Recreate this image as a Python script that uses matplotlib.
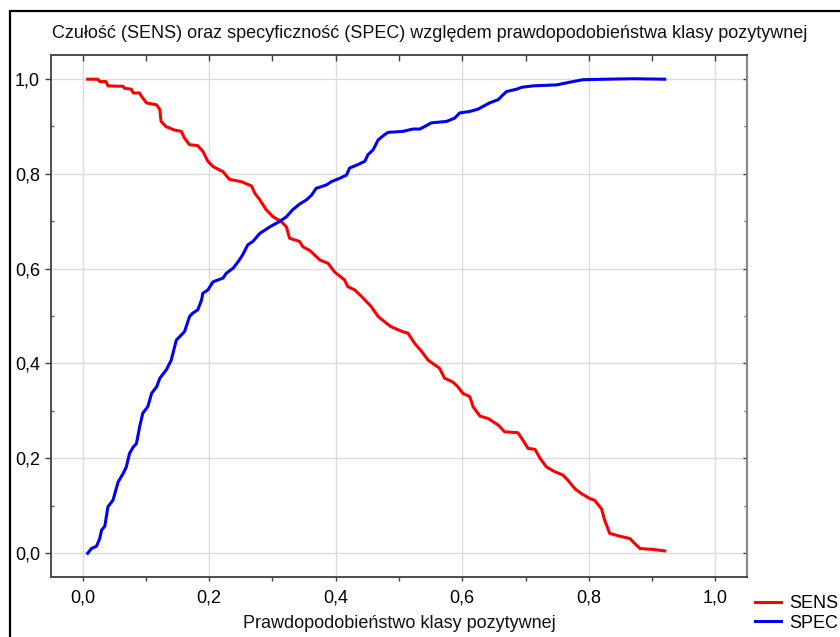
import numpy as np
import matplotlib
matplotlib.use("Agg")
import matplotlib.pyplot as plt
from matplotlib.patches import Rectangle
from matplotlib.ticker import FixedLocator, FuncFormatter

plt.rcParams['font.family'] = ['Liberation Sans', 'DejaVu Sans']

# --- data ---
sens_x = [0.008, 0.024, 0.027, 0.037, 0.040, 0.064, 0.066, 0.077, 0.080, 0.090,
          0.093, 0.101, 0.117, 0.122, 0.124, 0.132, 0.145, 0.156, 0.161, 0.169,
          0.182, 0.190, 0.198, 0.206, 0.222, 0.232, 0.251, 0.267, 0.272, 0.280,
          0.290, 0.301, 0.314, 0.322, 0.327, 0.343, 0.348, 0.359, 0.364, 0.375,
          0.388, 0.398, 0.414, 0.419, 0.430, 0.441, 0.446, 0.456, 0.467, 0.480,
          0.488, 0.506, 0.514, 0.525, 0.536, 0.546, 0.564, 0.572, 0.585, 0.593,
          0.601, 0.612, 0.617, 0.628, 0.641, 0.657, 0.667, 0.688, 0.696, 0.704,
          0.715, 0.723, 0.733, 0.746, 0.759, 0.767, 0.778, 0.788, 0.802, 0.809,
          0.820, 0.825, 0.833, 0.849, 0.865, 0.873, 0.881, 0.902, 0.920]
sens_y = [0.999, 0.999, 0.994, 0.994, 0.985, 0.984, 0.980, 0.978, 0.970, 0.970,
          0.963, 0.949, 0.945, 0.935, 0.910, 0.899, 0.892, 0.889, 0.875, 0.861,
          0.859, 0.847, 0.826, 0.815, 0.804, 0.788, 0.783, 0.774, 0.759, 0.745,
          0.724, 0.709, 0.699, 0.688, 0.664, 0.657, 0.646, 0.638, 0.632, 0.618,
          0.611, 0.593, 0.576, 0.562, 0.555, 0.541, 0.534, 0.520, 0.499, 0.485,
          0.477, 0.467, 0.464, 0.442, 0.425, 0.407, 0.390, 0.369, 0.361, 0.351,
          0.337, 0.330, 0.309, 0.289, 0.284, 0.270, 0.256, 0.254, 0.238, 0.221,
          0.219, 0.200, 0.182, 0.172, 0.165, 0.154, 0.136, 0.126, 0.115, 0.112,
          0.094, 0.070, 0.042, 0.036, 0.031, 0.020, 0.010, 0.008, 0.005]

spec_x = [0.008, 0.014, 0.022, 0.027, 0.030, 0.035, 0.040, 0.048, 0.056, 0.064,
          0.069, 0.074, 0.080, 0.085, 0.090, 0.095, 0.103, 0.109, 0.117, 0.122,
          0.132, 0.140, 0.148, 0.153, 0.161, 0.169, 0.174, 0.182, 0.188, 0.190,
          0.198, 0.206, 0.222, 0.227, 0.238, 0.246, 0.253, 0.261, 0.269, 0.280,
          0.296, 0.311, 0.322, 0.332, 0.343, 0.354, 0.362, 0.369, 0.385, 0.393,
          0.406, 0.417, 0.422, 0.435, 0.446, 0.451, 0.459, 0.467, 0.477, 0.483,
          0.506, 0.522, 0.533, 0.543, 0.551, 0.575, 0.588, 0.596, 0.612, 0.625,
          0.643, 0.657, 0.662, 0.670, 0.686, 0.694, 0.712, 0.749, 0.775, 0.791,
          0.828, 0.870, 0.920]
spec_y = [0.000, 0.010, 0.015, 0.031, 0.049, 0.057, 0.098, 0.112, 0.150, 0.168,
          0.182, 0.210, 0.224, 0.231, 0.266, 0.295, 0.309, 0.337, 0.351, 0.369,
          0.386, 0.407, 0.449, 0.456, 0.467, 0.499, 0.506, 0.513, 0.534, 0.548,
          0.555, 0.572, 0.580, 0.590, 0.601, 0.615, 0.629, 0.650, 0.657, 0.674,
          0.688, 0.699, 0.709, 0.724, 0.736, 0.745, 0.755, 0.769, 0.776, 0.783,
          0.790, 0.797, 0.812, 0.819, 0.826, 0.840, 0.850, 0.871, 0.882, 0.887,
          0.889, 0.894, 0.894, 0.901, 0.907, 0.910, 0.917, 0.928, 0.931, 0.936,
          0.949, 0.956, 0.963, 0.973, 0.978, 0.982, 0.985, 0.987, 0.994, 0.998,
          0.999, 1.000, 0.999]

major_ticks = [0.0, 0.2, 0.4, 0.6, 0.8, 1.0]
minor_ticks = [0.1, 0.3, 0.5, 0.7, 0.9]

title = "Czułość (SENS) oraz specyficzność (SPEC) względem prawdopodobieństwa klasy pozytywnej"
xlabel = "Prawdopodobieństwo klasy pozytywnej"

# --- figure ---
fig = plt.figure(figsize=(8.4, 6.37), dpi=100)
ax = fig.add_axes([51 / 840, 1 - 577 / 637, 696 / 840, 522 / 637])

ax.plot(sens_x, sens_y, color="#ff0000", lw=2.2, label="SENS", zorder=3)
ax.plot(spec_x, spec_y, color="#0000ff", lw=2.2, label="SPEC", zorder=3)

ax.set_xlim(-0.05, 1.05)
ax.set_ylim(-0.05, 1.05)

comma = FuncFormatter(lambda v, p: f"{v:.1f}".replace(".", ","))
for axis in (ax.xaxis, ax.yaxis):
    axis.set_major_locator(FixedLocator(major_ticks))
    axis.set_minor_locator(FixedLocator(minor_ticks))
    axis.set_major_formatter(comma)

ax.grid(True, which="major", color="#dcdcdc", lw=1.0, zorder=0)
ax.set_axisbelow(True)

for side in ["left", "bottom", "top"]:
    ax.spines[side].set_color("#404040")
    ax.spines[side].set_linewidth(1.3)
ax.spines["right"].set_color("#8a8a8a")
ax.spines["right"].set_linewidth(1.6)

ax.tick_params(axis="x", which="major", direction="out", length=3, width=1,
               color="#404040", labelsize=13, pad=6, top=True)
ax.tick_params(axis="x", which="minor", direction="out", length=3, width=1,
               color="#404040", top=True)
ax.tick_params(axis="y", which="major", direction="out", length=4, width=1,
               color="#404040", labelsize=13, pad=4, right=True)
ax.tick_params(axis="y", which="minor", direction="in", length=2, width=1,
               color="#606060", right=True)
# top/right ticks point inward
for t in ax.xaxis.get_major_ticks() + ax.xaxis.get_minor_ticks():
    t.tick2line.set_marker(3)
    t.tick2line.set_markersize(4)
for t in ax.yaxis.get_major_ticks():
    t.tick2line.set_marker(0)
    t.tick2line.set_markersize(3)
    t.tick2line.set_color("#202020")

ax.set_xlabel(xlabel, fontsize=13, labelpad=6, color="#111111")

fig.text(52 / 840, 1 - 34 / 637, title, fontsize=13, va="center", ha="left",
         color="#111111")

ax.legend(loc="upper left", bbox_to_anchor=(755 / 840, 1 - 595 / 637),
          bbox_transform=fig.transFigure, frameon=False, fontsize=13,
          handlelength=1.45, handletextpad=0.45, labelspacing=0.15,
          borderaxespad=0, borderpad=0)

# outer frame of the original export
fig.add_artist(Rectangle((10 / 840, -0.1), 1.2, 1 - 11 / 637 + 0.1,
                         transform=fig.transFigure, fill=False,
                         edgecolor="black", lw=1.6, clip_on=False))

fig.savefig("out.png", dpi=100)
